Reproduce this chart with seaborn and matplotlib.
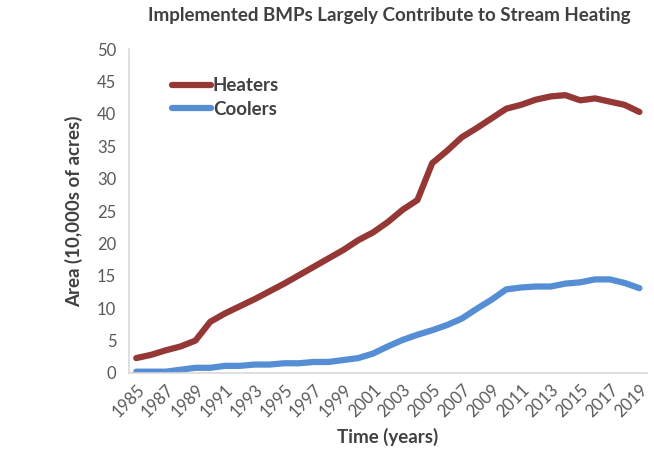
import numpy as np
import pandas as pd
import seaborn as sns
import matplotlib.pyplot as plt
from matplotlib.ticker import MultipleLocator
from matplotlib.font_manager import FontProperties

# Values (10,000s of acres)
years = list(range(1985, 2020))
heaters = [2.3, 2.8, 3.5, 4.1, 5.0, 7.9, 9.2, 10.3, 11.4, 12.6, 13.8, 15.1, 16.4, 17.7, 19.0,
           20.5, 21.7, 23.3, 25.2, 26.7, 32.4, 34.3, 36.4, 37.8, 39.3, 40.8, 41.4, 42.2, 42.7,
           42.9, 42.1, 42.4, 41.9, 41.4, 40.3]
coolers = [0.2, 0.2, 0.2, 0.5, 0.8, 0.8, 1.1, 1.1, 1.3, 1.3, 1.5, 1.5, 1.7, 1.7, 2.0,
           2.3, 3.0, 4.1, 5.1, 5.9, 6.6, 7.4, 8.4, 9.9, 11.3, 12.9, 13.2, 13.35, 13.35,
           13.8, 14.0, 14.45, 14.45, 13.9, 13.1]
series_names = ["Heaters", "Coolers"]
series_colors = ["#953735", "#558ed5"]

df = pd.concat([
    pd.DataFrame({"Year": years, "Area": heaters, "Series": "Heaters"}),
    pd.DataFrame({"Year": years, "Area": coolers, "Series": "Coolers"}),
])

sns.set_style("white")
plt.rcParams["font.family"] = ["Lato", "DejaVu Sans"]

fig = plt.figure(figsize=(6.54, 4.51), dpi=100)
ax = fig.add_axes([0.197, 0.173, 0.792, 0.718])

sns.lineplot(data=df, x="Year", y="Area", hue="Series", hue_order=series_names,
             palette=dict(zip(series_names, series_colors)), linewidth=4.5,
             solid_capstyle="round", legend=False, ax=ax)

grey = "#d9d9d9"
text_dark = "#404040"
text_tick = "#595959"

ax.set_xlim(years[0] - 0.5, years[-1] + 0.5)
ax.set_ylim(0, 50)
ax.yaxis.set_major_locator(MultipleLocator(5))
ax.set_xticks(years[::2])
ax.set_xticklabels([str(y) for y in years[::2]], rotation=45, ha="right",
                   rotation_mode="anchor")
ax.set_xticks(np.arange(years[0] - 0.5, years[-1] + 1), minor=True)
ax.tick_params(axis="x", which="major", length=0, pad=6, labelsize=12, labelcolor=text_tick)
ax.tick_params(axis="x", which="minor", length=5, color=grey, width=1, direction="out")
ax.tick_params(axis="y", length=5, color=grey, width=1, direction="out",
               labelsize=12, labelcolor=text_tick, pad=4)

for side in ["top", "right"]:
    ax.spines[side].set_visible(False)
for side in ["left", "bottom"]:
    ax.spines[side].set_color(grey)
    ax.spines[side].set_linewidth(1.2)

ax.set_xlabel("Time (years)", fontsize=13.5, fontweight="bold", color=text_dark, labelpad=6)
ax.set_ylabel("Area (10,000s of acres)", fontsize=13.5, fontweight="bold", color=text_dark, labelpad=10)
fig.suptitle("Implemented BMPs Largely Contribute to Stream Heating", x=0.596, y=0.985,
             fontsize=13.5, fontweight="bold", color=text_dark)

# legend built from the plotted lines
leg_font = FontProperties(family=["Lato", "DejaVu Sans"], weight="bold", size=13.5)
leg = ax.legend(ax.get_lines()[:2], series_names, loc="upper left",
                bbox_to_anchor=(0.05, 0.965), frameon=False,
                handlelength=2.1, handletextpad=0.1, labelspacing=0.35, prop=leg_font)
for t in leg.get_texts():
    t.set_color(text_dark)

fig.savefig("out.png", dpi=100)
